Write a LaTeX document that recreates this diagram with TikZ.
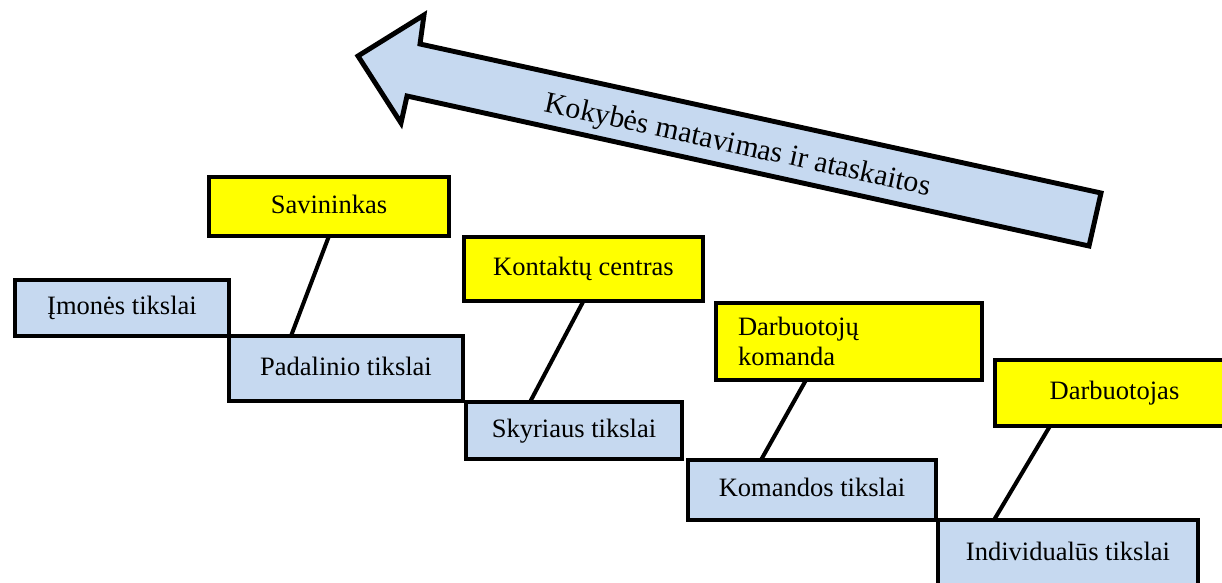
\documentclass[tikz,border=0pt]{standalone}
\usepackage{fontspec}
\setmainfont{Liberation Serif}
\usetikzlibrary{positioning}
\definecolor{goalblue}{RGB}{198,217,240}
\definecolor{roleyellow}{RGB}{255,255,0}

\begin{document}
\begin{tikzpicture}[x=0.02cm,y=-0.02cm,
    goal/.style={draw,line width=2.8pt,fill=goalblue,anchor=north west,
      inner sep=0pt,outer sep=0pt,font=\fontsize{15.1}{17}\selectfont,
      text height=0.95em,text depth=0.2em},
    role/.style={goal,fill=roleyellow},
    link/.style={line width=2.3pt}]
  \useasboundingbox (0,0) rectangle (1222,582);

  %quality arrow
  \draw[line width=2.8pt,line join=miter,fill=goalblue]
    (358,56) -- (424,15) -- (420,44) -- (1101,193) -- (1089,246)
    -- (407,96) -- (401,123) -- cycle;
  \node[font=\fontsize{17}{20}\selectfont,rotate=-12.3,anchor=base] (kok)
    at (736,153.5) {Kokybės matavimas ir ataskaitos};

  %goal staircase
  \node[goal,minimum width=4.28cm,minimum height=1.12cm] (imo) at (15,280) {Įmonės tikslai};
  \node[goal,minimum width=4.68cm,minimum height=1.3cm] (pad) at (229,336) {Padalinio tikslai};
  \node[goal,minimum width=4.32cm,minimum height=1.14cm] (sky) at (466,402) {Skyriaus tikslai};
  \node[goal,minimum width=4.96cm,minimum height=1.2cm] (kom) at (688,460) {Komandos tikslai};
  \node[goal,minimum width=5.2cm,minimum height=1.36cm] (ind) at (938,520) {Individualūs tikslai};

  %owners of the goals
  \node[role,minimum width=4.8cm,minimum height=1.18cm] (sav) at (209,177) {Savininkas};
  \node[role,minimum width=4.78cm,minimum height=1.28cm] (kon) at (464,237) {Kontaktų centras};
  \node[role,minimum width=5.32cm,minimum height=1.54cm,text width=4.44cm,align=left,
    inner xsep=0.44cm,text height={},text depth={}] (dk) at (716,303) {Darbuotojų\\komanda};
  \node[role,minimum width=4.78cm,minimum height=1.32cm] (dar) at (995,360) {Darbuotojas};

  %links
  \draw[link] (sav.south) -- ([xshift=1.24cm]pad.north west);
  \draw[link] (kon.south) -- ([xshift=1.28cm]sky.north west);
  \draw[link] ([xshift=1.8cm]dk.south west) -- ([xshift=1.46cm]kom.north west);
  \draw[link] ([xshift=1.1cm]dar.south west) -- ([xshift=1.12cm]ind.north west);
\end{tikzpicture}
\end{document}
